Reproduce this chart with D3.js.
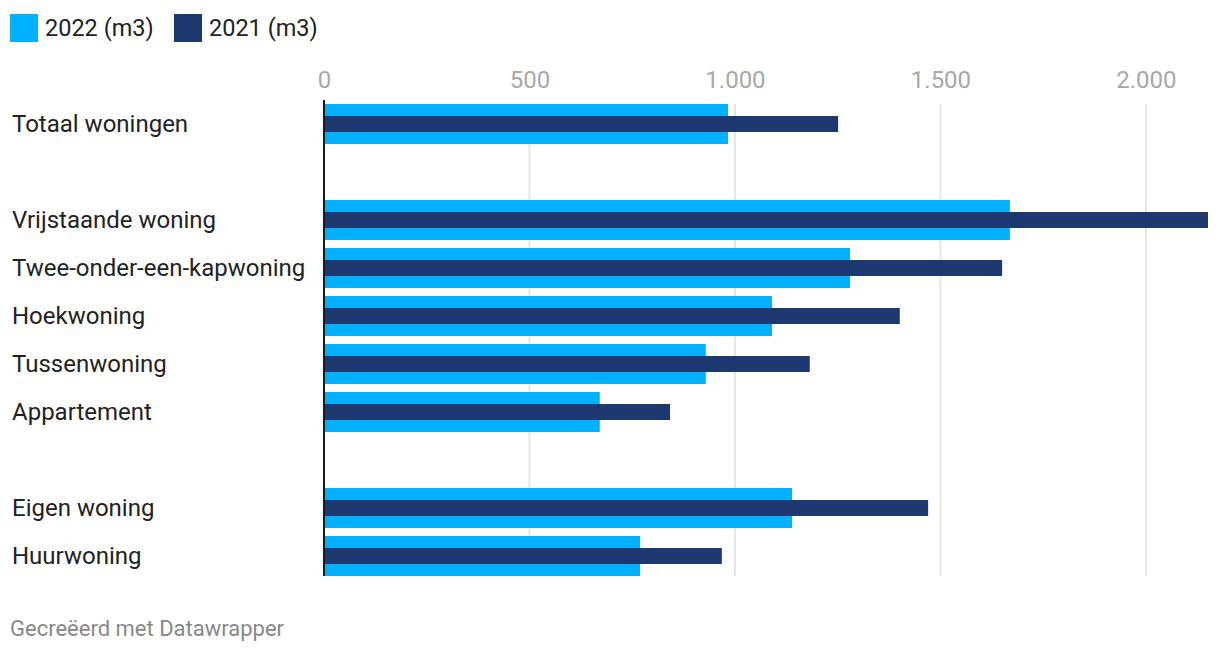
<!DOCTYPE html>
<html>
<head>
<meta charset="utf-8">
<script src="https://cdn.jsdelivr.net/npm/d3@7"></script>
<style>
  body { margin: 0; background: #fff; font-family: Roboto, "Noto Sans", sans-serif; }
  svg { display: block; }
</style>
</head>
<body>
<svg width="1220" height="654"></svg>
<script>
// categories, "" rows are the empty spacer rows
var categories = ["Totaal woningen", "", "Vrijstaande woning", "Twee-onder-een-kapwoning",
    "Hoekwoning", "Tussenwoning", "Appartement", "", "Eigen woning", "Huurwoning"];
var values2022 = [983, null, 1669, 1280, 1090, 929, 671, null, 1139, 769];
var values2021 = [1251, null, 2151, 1650, 1401, 1182, 842, null, 1470, 968];
var series = ["2022 (m3)", "2021 (m3)"];
var tickValues = [0, 500, 1000, 1500, 2000];

var colors = ["#01b1ff", "#1d3771"];

var nl = d3.formatLocale({decimal: ",", thousands: ".", grouping: [3], currency: ["€", ""]});
var fmt = nl.format(",d");

var svg = d3.select("svg");

var rows = categories.map(function(c, i) {
    return {key: i, label: c, v22: values2022[i], v21: values2021[i]};
});

var xScale = d3.scaleLinear().domain([0, d3.max(values2021)]).range([324, 1208]);
var yScale = d3.scaleBand().domain(rows.map(function(d) { return d.key; }))
    .range([100, 580]).paddingInner(1/6).paddingOuter(1/12);

// legend
var legend = svg.append("g");
var lx = [10, 174];
series.forEach(function(s, i) {
    legend.append("rect")
        .attr("x", lx[i]).attr("y", 14)
        .attr("width", 28).attr("height", 28)
        .attr("fill", colors[i]);
    legend.append("text")
        .attr("x", lx[i] + 35).attr("y", 36)
        .attr("font-size", 23.5).attr("fill", "#222")
        .text(s);
});

// top axis with gridlines
var axis = svg.append("g")
    .attr("transform", "translate(0,100)")
    .call(d3.axisTop(xScale).tickValues(tickValues).tickFormat(fmt).tickSize(0).tickPadding(12));
axis.select(".domain").remove();
axis.selectAll("text")
    .attr("font-family", "Roboto, sans-serif")
    .attr("font-size", 24)
    .attr("fill", "#a8a8a8");

svg.append("g").selectAll("line")
    .data(tickValues.filter(function(t) { return t > 0; }))
    .enter().append("line")
    .attr("x1", function(d) { return xScale(d); })
    .attr("x2", function(d) { return xScale(d); })
    .attr("y1", 104).attr("y2", 576)
    .attr("stroke", "#e5e5e5")
    .attr("stroke-width", 2);

var data = rows.filter(function(d) { return d.label !== ""; });

// 2022 wide bars
svg.append("g").selectAll("rect")
    .data(data).enter().append("rect")
    .attr("x", xScale(0))
    .attr("y", function(d) { return yScale(d.key); })
    .attr("width", function(d) { return xScale(d.v22) - xScale(0); })
    .attr("height", yScale.bandwidth())
    .attr("fill", colors[0]);

// 2021 narrow bars
svg.append("g").selectAll("rect")
    .data(data).enter().append("rect")
    .attr("x", xScale(0))
    .attr("y", function(d) { return yScale(d.key) + yScale.bandwidth() * 0.3; })
    .attr("width", function(d) { return xScale(d.v21) - xScale(0); })
    .attr("height", yScale.bandwidth() * 0.4)
    .attr("fill", colors[1]);

// category labels
svg.append("g").selectAll("text")
    .data(data).enter().append("text")
    .attr("x", 12)
    .attr("y", function(d) { return yScale(d.key) + yScale.bandwidth() / 2; })
    .attr("dy", "0.35em")
    .attr("font-size", 24)
    .attr("fill", "#222")
    .text(function(d) { return d.label; });

// zero line
svg.append("line")
    .attr("x1", xScale(0)).attr("x2", xScale(0))
    .attr("y1", 100).attr("y2", 576)
    .attr("stroke", "#1a1a1a")
    .attr("stroke-width", 2);

// footer
svg.append("text")
    .attr("x", 10).attr("y", 636)
    .attr("font-size", 22)
    .attr("fill", "#888")
    .text("Gecreëerd met Datawrapper");
</script>
</body>
</html>
